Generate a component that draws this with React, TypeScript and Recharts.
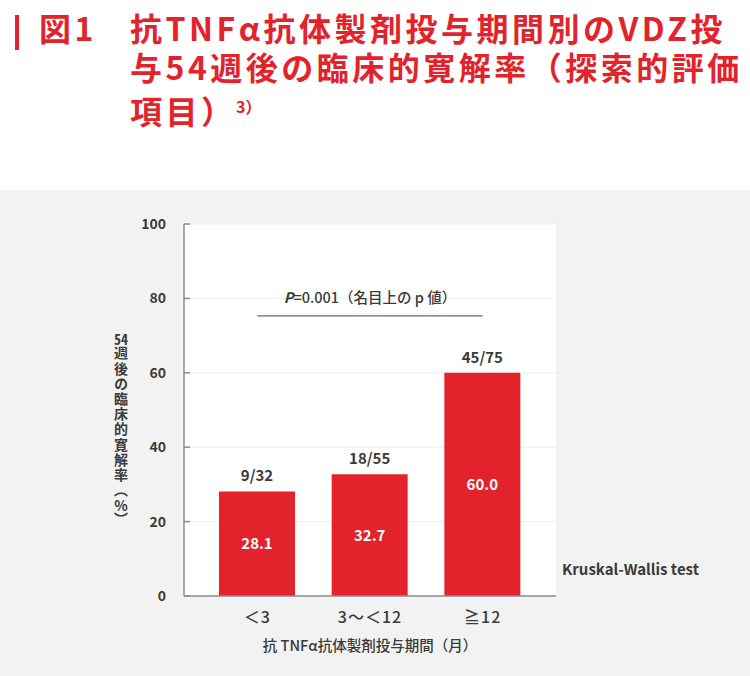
import { BarChart, Bar, XAxis, YAxis, CartesianGrid, LabelList, Label, ReferenceLine } from 'recharts';

const categories = ['＜3', '3～＜12', '≧12'];
const remissionRates = [28.1, 32.7, 60.0];
const patientCounts = ['9/32', '18/55', '45/75'];
const yTicks = [0, 20, 40, 60, 80, 100];
const pValueLevel = 75.3;

const RED = '#e2232b';
const TEXT = '#3a3a3a';
const AXIS = '#8c8c8c';
const FONT = "'Noto Sans CJK JP', 'Noto Sans', sans-serif";

const data = categories.map((name, i) => ({
  name,
  rate: remissionRates[i],
  rateLabel: remissionRates[i].toFixed(1),
  count: patientCounts[i],
}));

function YTick(props: any) {
  const { x, y, payload } = props;
  return (
    <g>
      <text x={x} y={y} dy="0.36em" textAnchor="end" fill={TEXT} fontSize={14} fontWeight={700} fontFamily={FONT}>
        {payload.value}
      </text>
      <line x1={x + 18} x2={x + 24} y1={y} y2={y} stroke={AXIS} strokeWidth={1.5} />
    </g>
  );
}

function PLabel(props: any) {
  const vb = props.viewBox || {};
  const cx = vb.x + (vb.width || 0) / 2;
  return (
    <text x={cx} y={vb.y - 13} textAnchor="middle" fill={TEXT} fontSize={14.5} fontWeight={500} fontFamily={FONT}>
      <tspan fontStyle="italic" fontWeight={700}>P</tspan>
      <tspan>=0.001（名目上の p 値）</tspan>
    </text>
  );
}

const titleLine = {
  position: 'absolute' as const,
  left: 130,
  fontSize: 32,
  lineHeight: '38px',
  fontWeight: 700,
  color: RED,
  letterSpacing: 3.5,
  whiteSpace: 'nowrap' as const,
};

export default function App() {
  return (
    <div style={{ position: 'absolute', left: 0, top: 0, width: 750, height: 676, background: '#fff', fontFamily: FONT, overflow: 'hidden' }}>
      {/* title */}
      <div style={{ position: 'absolute', left: 15, top: 15, width: 4, height: 35, background: RED }} />
      <div style={{ ...titleLine, left: 39, top: 8 }}>図1</div>
      <div style={{ ...titleLine, top: 8 }}>抗TNFα抗体製剤投与期間別のVDZ投</div>
      <div style={{ ...titleLine, top: 47 }}>与54週後の臨床的寛解率（探索的評価</div>
      <div style={{ ...titleLine, top: 91 }}>項目）</div>
      <div style={{ position: 'absolute', left: 236, top: 96, fontSize: 16, lineHeight: '20px', fontWeight: 700, color: RED }}>3）</div>

      {/* chart panel */}
      <div style={{ position: 'absolute', left: 0, top: 190, width: 750, height: 486, background: '#f2f2f2' }}>
        <BarChart width={750} height={486} data={data} margin={{ top: 34, right: 194, bottom: 0, left: 0 }} barSize={76}>
          <CartesianGrid horizontal vertical={false} fill="#ffffff" stroke="#ededed" strokeWidth={1} />
          <XAxis
            dataKey="name"
            height={80}
            padding={{ left: 17, right: 17 }}
            tickLine={false}
            tickSize={0}
            tickMargin={16}
            axisLine={{ stroke: AXIS, strokeWidth: 1.5 }}
            tick={{ fill: TEXT, fontSize: 16, fontWeight: 500, fontFamily: FONT, letterSpacing: 1 }}
          >
            <Label
              value="抗 TNFα抗体製剤投与期間（月）"
              position="insideBottom"
              offset={25}
              fill={TEXT}
              fontSize={14.5}
              fontWeight={500}
              fontFamily={FONT}
            />
          </XAxis>
          <YAxis
            width={184}
            domain={[0, 100]}
            ticks={yTicks}
            interval={0}
            tickLine={false}
            tickSize={0}
            tickMargin={18}
            axisLine={{ stroke: AXIS, strokeWidth: 1.5 }}
            tick={<YTick />}
          />
          <ReferenceLine
            segment={[{ x: categories[0], y: pValueLevel }, { x: categories[2], y: pValueLevel }]}
            stroke="#6a6a6a"
            strokeWidth={1.2}
            label={<PLabel />}
          />
          <Bar dataKey="rate" fill={RED} isAnimationActive={false}>
            <LabelList dataKey="count" position="top" offset={10} fill={TEXT} fontSize={15} fontWeight={700} fontFamily={FONT} />
            <LabelList dataKey="rateLabel" position="center" fill="#ffffff" fontSize={15} fontWeight={700} fontFamily={FONT} />
          </Bar>
        </BarChart>

        {/* y axis title, vertical */}
        <div
          style={{
            position: 'absolute',
            left: 113,
            top: 142,
            writingMode: 'vertical-rl',
            textOrientation: 'upright',
            fontSize: 14,
            lineHeight: '16px',
            letterSpacing: 1.2,
            fontWeight: 700,
            color: TEXT,
          }}
        >
          <span style={{ textCombineUpright: 'all' } as any}>54</span>週後の臨床的寛解率（<span style={{ textCombineUpright: 'all' } as any}>%</span>）
        </div>

        <div style={{ position: 'absolute', left: 562, top: 369, fontSize: 15, lineHeight: '20px', fontWeight: 700, color: TEXT, whiteSpace: 'nowrap' }}>
          Kruskal-Wallis test
        </div>
      </div>
    </div>
  );
}
